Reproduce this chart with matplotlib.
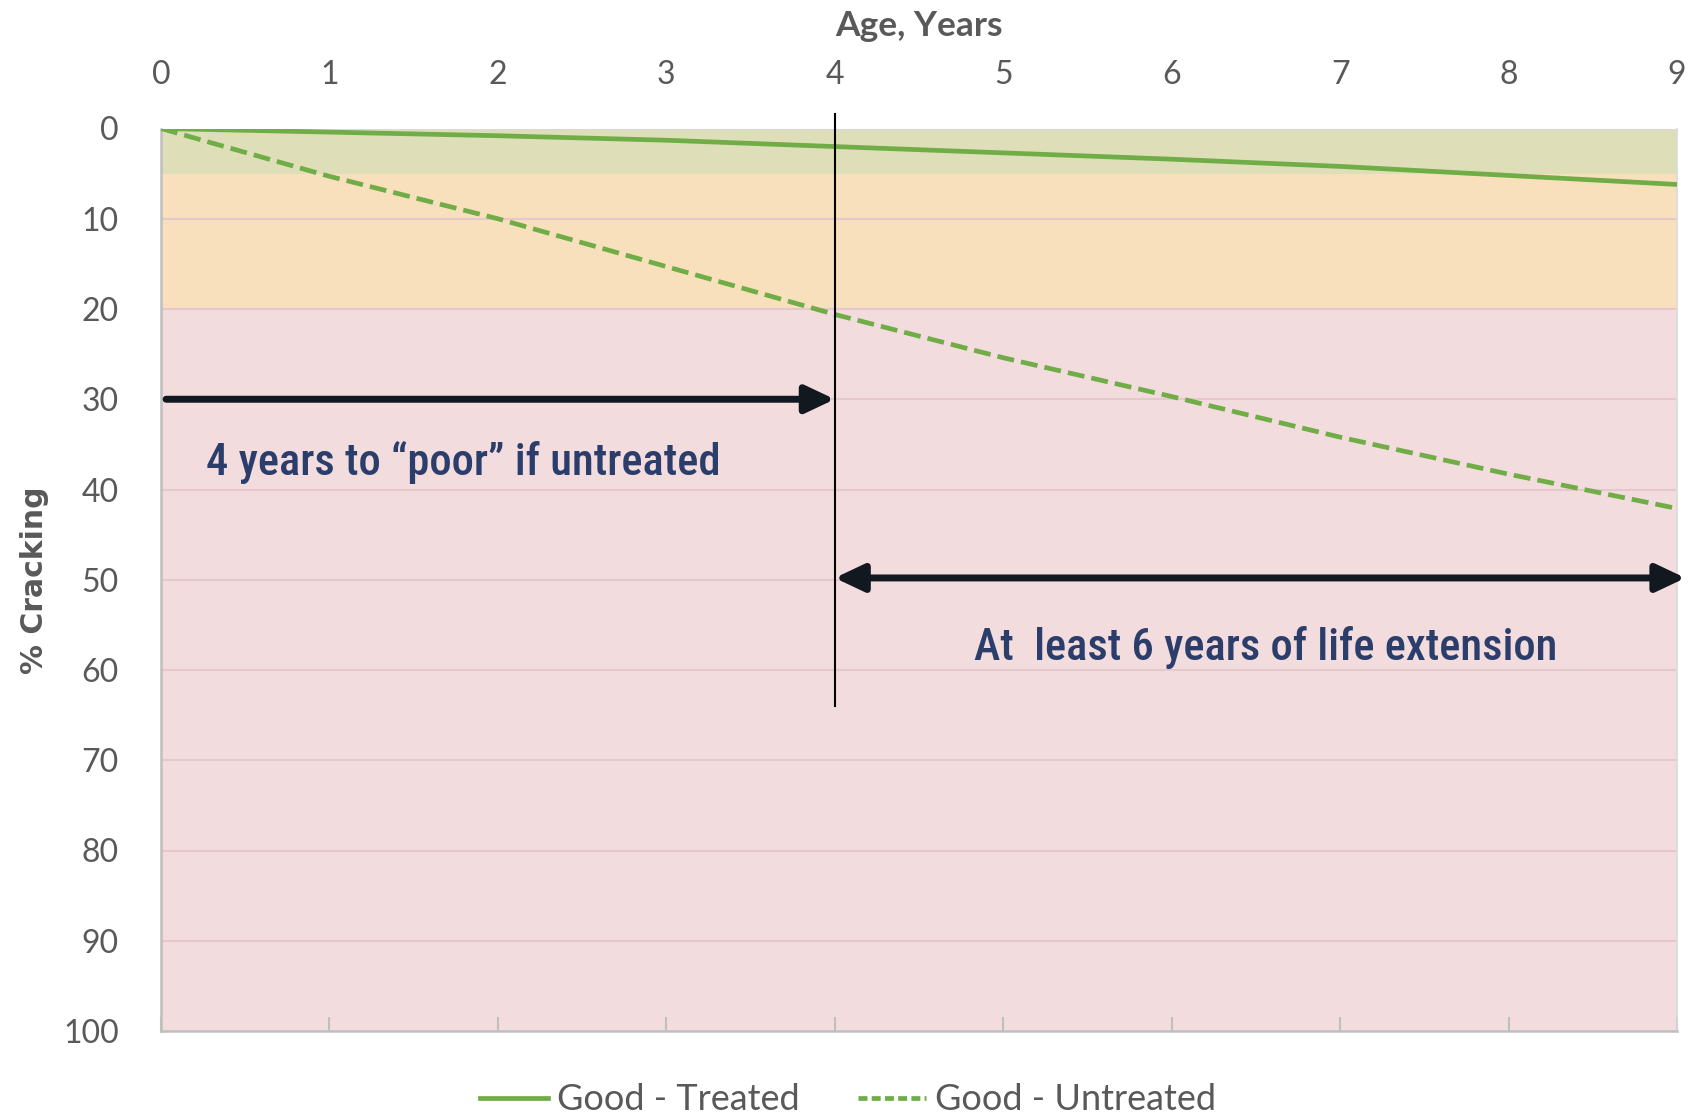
import matplotlib
matplotlib.use("Agg")
import matplotlib.pyplot as plt
import matplotlib.font_manager as fm
from matplotlib.lines import Line2D

# ---- data ----
age_years = [0, 1, 2, 3, 4, 5, 6, 7, 8, 9]
good_treated = [0.0, 0.4, 0.8, 1.3, 2.0, 2.7, 3.4, 4.2, 5.2, 6.2]
good_untreated = [0.0, 5.3, 10.0, 15.3, 20.6, 25.4, 29.7, 34.2, 38.3, 42.1]
series_labels = ["Good - Treated", "Good - Untreated"]
band_edges = [0, 5, 20, 100]
band_colors = ["#DEDFB8", "#F9E0BD", "#F3DCDE"]
y_ticks = [0, 10, 20, 30, 40, 50, 60, 70, 80, 90, 100]
x_ticks = [0, 1, 2, 3, 4, 5, 6, 7, 8, 9]
note_poor = "4 years to \u201cpoor\u201d if untreated"
note_ext = "At  least 6 years of life extension"

installed = {f.name for f in fm.fontManager.ttflist}
if "Roboto Condensed" in installed:
    note_kw = dict(family=["Roboto Condensed", "DejaVu Sans"], fontsize=32, fontweight="medium")
else:
    note_kw = dict(family=["Noto Sans", "DejaVu Sans"], fontsize=29, fontweight="normal")

W, H = 1696, 1120
fig = plt.figure(figsize=(W / 100, H / 100), dpi=100)
ax = fig.add_axes([161 / W, 1 - 1031 / H, (1677 - 161) / W, (1031 - 128.5) / H])

tick_font = ["Lato", "DejaVu Sans"]
gray = "#595959"
green = "#70AD47"
navy = "#2B3E6B"
arrow_c = "#121820"

# bands
for lo, hi, c in zip(band_edges[:-1], band_edges[1:], band_colors):
    ax.axhspan(lo, hi, color=c, zorder=0, lw=0)

# grid
for yv in y_ticks[1:-1]:
    ax.axhline(yv, color="#E5C8CB", lw=1.5, zorder=1)
ax.axhline(0, color="#D9D9D9", lw=1.5, zorder=1)

ax.plot(age_years, good_treated, color=green, lw=3.4, solid_capstyle="butt", zorder=3)
ax.plot(age_years, good_untreated, color=green, lw=3.4, dashes=(3.6, 1.5), zorder=3)

ax.set_xlim(0, 9)
ax.set_ylim(100, 0)

# vertical marker at year 4
ax.plot([4, 4], [-1.6, 64], color="black", lw=1.5, clip_on=False, zorder=4)

# arrows
ap = dict(lw=5.0, color=arrow_c, shrinkA=0, shrinkB=0, mutation_scale=16)
ax.annotate("", xy=(4, 30), xytext=(0.03, 30),
            arrowprops=dict(arrowstyle="-|>,head_length=1.1,head_width=0.52", **ap),
            annotation_clip=False, zorder=5)
ax.annotate("", xy=(9.05, 49.8), xytext=(4.0, 49.8),
            arrowprops=dict(arrowstyle="<|-|>,head_length=1.1,head_width=0.52", **ap),
            annotation_clip=False, zorder=5)

ax.text(0.27, 37.0, note_poor, color=navy, ha="left", va="center", zorder=6, **note_kw)
ax.text(6.56, 57.5, note_ext, color=navy, ha="center", va="center", zorder=6, **note_kw)

# axes styling
ax.spines["top"].set_visible(False)
for s in ["left", "bottom"]:
    ax.spines[s].set_color("#BFBFBF")
    ax.spines[s].set_linewidth(1.8)
ax.spines["right"].set_color("#D9D9D9")
ax.spines["right"].set_linewidth(1.2)

ax.set_xticks(x_ticks)
ax.set_yticks(y_ticks)
ax.tick_params(axis="x", which="both", bottom=True, top=False, labelbottom=False,
               labeltop=True, direction="in", length=10, width=1.5, color="#BFBFBF",
               pad=28, labelsize=23, labelcolor=gray)
ax.tick_params(axis="y", left=False, pad=27, labelsize=23, labelcolor=gray)
for lab in ax.get_xticklabels() + ax.get_yticklabels():
    lab.set_family(tick_font)

ax.xaxis.set_label_position("top")
ax.set_xlabel("Age, Years", family=tick_font, fontsize=25.5, fontweight="bold",
              color=gray, labelpad=17)
ax.set_ylabel("% Cracking", family=["DejaVu Sans"], fontsize=21.5, fontweight="bold",
              color=gray, labelpad=10)

handles = [Line2D([0], [0], color=green, lw=3.4),
           Line2D([0], [0], color=green, lw=3.4, dashes=(1.9, 0.9))]
fig.legend(handles, series_labels, loc="center", bbox_to_anchor=(0.5, 1 - 1100 / H),
           ncol=2, frameon=False, prop=dict(family=tick_font, size=26),
           labelcolor=gray, handlelength=1.9, handletextpad=0.25, columnspacing=1.6)

fig.savefig("out.png", dpi=100, facecolor="white")
